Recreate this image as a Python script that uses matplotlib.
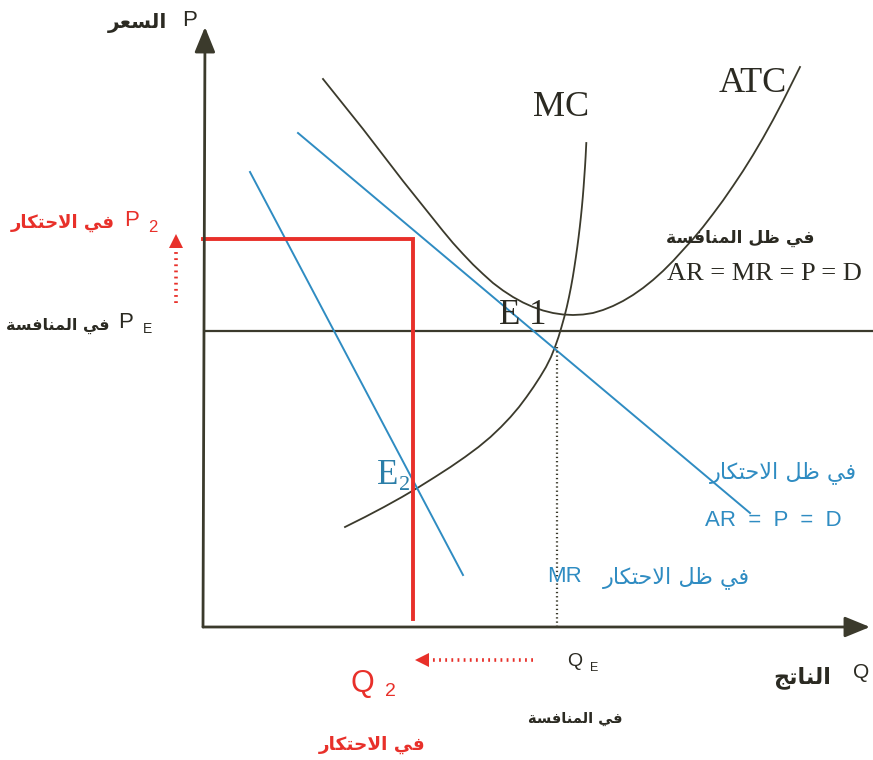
import matplotlib
matplotlib.use("Agg")
import matplotlib.pyplot as plt

# ---------------- data (chart units: quantity to the right, price upward) ----------------
P2 = 388          # monopoly price
PE = 296          # competitive price
Q2 = 210          # monopoly output
QE = 354          # competitive output
QE_TOP = 280      # where the dotted QE guide starts
RED_BOTTOM = 8

atc_q = [120, 140, 160, 180, 200, 220, 240, 250, 260, 270,
         280, 290, 300, 310, 320, 330, 340, 350, 360, 370,
         380, 390, 400, 410, 420, 430, 440, 450, 460, 470,
         480, 490, 500, 510, 520, 530, 540, 550, 560, 570,
         580, 590, 597]
atc_p = [548, 523, 498, 472, 446, 421, 396, 384, 373, 362.5,
         353, 344, 336.5, 330, 324.5, 320, 316.5, 314, 312.5, 312,
         312.5, 314, 317, 321, 326, 332, 339, 347, 356, 366,
         377, 388, 400, 413, 426.5, 441, 456, 472, 489, 507,
         526, 546, 560]

mc_q = [142, 162, 181, 199, 216, 232, 247.5, 262, 275.5, 287.5,
        298, 307.5, 316, 323.5, 330.5, 337, 343, 348, 352, 355.5,
        358.5, 361.3, 363.8, 366, 368, 369.8, 371.4, 372.9, 374.3, 375.6,
        376.8, 377.9, 378.9, 379.8, 380.6, 381.3, 382, 382.6, 383.3]
mc_p = [100, 110, 120, 130, 140, 150, 160, 170, 180, 190,
        200, 210, 220, 230, 240, 250, 260, 270, 280, 290,
        300, 310, 320, 330, 340, 350, 360, 370, 380, 390,
        400, 410, 420, 430, 440, 450, 460, 470, 484]

ar_q = [95, 547]
ar_p = [494, 114]
mr_q = [47, 260]
mr_p = [455, 52]

PE_END = 670

# ---------------- Arabic shaping helper ----------------
FORMS = {
    'ا': ('\uFE8D', '\uFE8E', None, None),
    'ة': ('\uFE93', '\uFE94', None, None),
    'ت': ('\uFE95', '\uFE96', '\uFE97', '\uFE98'),
    'ج': ('\uFE9D', '\uFE9E', '\uFE9F', '\uFEA0'),
    'ح': ('\uFEA1', '\uFEA2', '\uFEA3', '\uFEA4'),
    'ر': ('\uFEAD', '\uFEAE', None, None),
    'س': ('\uFEB1', '\uFEB2', '\uFEB3', '\uFEB4'),
    'ظ': ('\uFEC5', '\uFEC6', '\uFEC7', '\uFEC8'),
    'ع': ('\uFEC9', '\uFECA', '\uFECB', '\uFECC'),
    'ف': ('\uFED1', '\uFED2', '\uFED3', '\uFED4'),
    'ك': ('\uFED9', '\uFEDA', '\uFEDB', '\uFEDC'),
    'ل': ('\uFEDD', '\uFEDE', '\uFEDF', '\uFEE0'),
    'م': ('\uFEE1', '\uFEE2', '\uFEE3', '\uFEE4'),
    'ن': ('\uFEE5', '\uFEE6', '\uFEE7', '\uFEE8'),
    'ي': ('\uFEF1', '\uFEF2', '\uFEF3', '\uFEF4'),
}
LAMALEF = ('\uFEFB', '\uFEFC', None, None)


def shape_word(word):
    toks = []
    i = 0
    while i < len(word):
        c = word[i]
        if c == 'ل' and i + 1 < len(word) and word[i + 1] == 'ا':
            toks.append(LAMALEF)
            i += 2
        else:
            toks.append(FORMS.get(c, (c, c, None, None)))
            i += 1
    out = []
    for k, t in enumerate(toks):
        jp = k > 0 and toks[k - 1][2] is not None
        jn = t[2] is not None and k + 1 < len(toks)
        if jp and jn:
            out.append(t[3])
        elif jp:
            out.append(t[1])
        elif jn:
            out.append(t[2])
        else:
            out.append(t[0])
    return ''.join(out)


def ar(text):
    shaped = ' '.join(shape_word(w) for w in text.split(' '))
    return shaped[::-1]


# ---------------- figure ----------------
W, H = 873, 760
OX, OY = 203, 627
fig = plt.figure(figsize=(W / 100, H / 100), dpi=100)
ax = fig.add_axes([0, 0, 1, 1])
ax.set_xlim(-OX, W - OX)
ax.set_ylim(OY - H, OY)
ax.axis('off')


def T(x, y):
    return x - OX, OY - y


DARK = '#3b3a2c'
TXT = '#2b2a22'
BLUE = '#2f8cc2'
RED = '#e8302a'
E2C = '#2b7ea8'
ARF = ['DejaVu Sans']
SERIF = ['Liberation Serif']
SANS = ['Liberation Sans']

# axes with arrows
ax.annotate('', xy=T(205, 27), xytext=(0, 0),
            arrowprops=dict(arrowstyle='-|>,head_length=1.1,head_width=0.45',
                            color=DARK, lw=2.0, mutation_scale=14, shrinkA=0, shrinkB=0))
ax.annotate('', xy=T(870, 627), xytext=(0, 0),
            arrowprops=dict(arrowstyle='-|>,head_length=1.1,head_width=0.45',
                            color=DARK, lw=2.0, mutation_scale=14, shrinkA=0, shrinkB=0))

# competitive price line
ax.plot([0, PE_END], [PE, PE], color=DARK, lw=1.6, solid_capstyle='butt')

# curves
ax.plot(atc_q, atc_p, color=DARK, lw=1.3, solid_joinstyle='round')
ax.plot(mc_q, mc_p, color=DARK, lw=1.3, solid_joinstyle='round')
ax.plot(ar_q, ar_p, color=BLUE, lw=1.4)
ax.plot(mr_q, mr_p, color=BLUE, lw=1.4)

# dotted QE guide
ax.plot([QE, QE], [QE_TOP, 0], color=DARK, lw=1.6, ls=(0, (0.6, 1.3)))

# red monopoly price/quantity
ax.plot([0, Q2, Q2], [P2, P2, RED_BOTTOM], color=RED, lw=2.8, solid_joinstyle='miter')

# red dotted arrows
ax.plot([T(176, 0)[0]] * 2, [T(0, 303)[1], T(0, 250)[1]], color=RED, lw=2.6, ls=(0, (0.5, 1.2)))
ax.plot([T(176, 0)[0]], [T(0, 241)[1]], marker='^', color=RED, ms=10, mew=0)
ax.plot([T(533, 0)[0], T(430, 0)[0]], [T(0, 660)[1]] * 2, color=RED, lw=2.6, ls=(0, (0.5, 1.2)))
ax.plot([T(422, 0)[0]], [T(0, 660)[1]], marker='<', color=RED, ms=10, mew=0)

# ---------------- text ----------------
def put(x, y, s, **kw):
    ax.text(*T(x, y), s, **kw)

# P axis label
put(190, 20, 'P', ha='center', va='center', fontsize=16, family=SANS, color=TXT)
put(167, 23, ar('السعر'), ha='right', va='center', fontsize=14.5, family=ARF,
    fontweight='bold', color=TXT)

# P2 label (red)
put(115, 223, ar('في الاحتكار'), ha='right', va='center', fontsize=13, family=ARF,
    fontweight='bold', color=RED)
put(132, 221, 'P', ha='center', va='center', fontsize=16, family=SANS, color=RED)
put(153, 227, '2', ha='center', va='center', fontsize=12, family=SANS, color=RED)

# PE label
put(110, 326, ar('في المنافسة'), ha='right', va='center', fontsize=11.5, family=ARF,
    fontweight='bold', color=TXT)
put(126, 323, 'P', ha='center', va='center', fontsize=16, family=SANS, color=TXT)
put(148, 329, 'E', ha='center', va='center', fontsize=10, family=SANS, color=TXT)

# curve labels
put(561, 108, 'MC', ha='center', va='center', fontsize=26, family=SERIF, color=TXT)
put(753, 84, 'ATC', ha='center', va='center', fontsize=26, family=SERIF, color=TXT)
put(499, 316, 'E 1', ha='left', va='center', fontsize=25, family=SERIF, color=TXT)
put(377, 476, 'E', ha='left', va='center', fontsize=25, family=SERIF, color=E2C)
put(405, 486, '2', ha='center', va='center', fontsize=16, family=SERIF, color=E2C)

# competition demand label
put(815, 238, ar('في ظل المنافسة'), ha='right', va='center', fontsize=12.3, family=ARF,
    fontweight='bold', color=TXT)
put(667, 274, 'AR = MR = P = D', ha='left', va='center', fontsize=19, family=SERIF, color=TXT)

# monopoly demand label
put(857, 473, ar('في ظل الاحتكار'), ha='right', va='center', fontsize=16, family=ARF,
    color=BLUE)
put(705, 521, 'AR  =  P  =  D', ha='left', va='center', fontsize=16, family=SANS, color=BLUE)

# MR label
put(750, 578, ar('في ظل الاحتكار'), ha='right', va='center', fontsize=16, family=ARF,
    color=BLUE)
put(547, 577, 'MR', ha='left', va='center', fontsize=16, family=SANS, color=BLUE)

# Q axis label
put(861, 672, 'Q', ha='center', va='center', fontsize=15, family=SANS, color=TXT)
put(831, 678, ar('الناتج'), ha='right', va='center', fontsize=16, family=ARF,
    fontweight='bold', color=TXT)

# QE label
put(575, 662, 'Q', ha='center', va='center', fontsize=14, family=SANS, color=TXT)
put(594, 668, 'E', ha='center', va='center', fontsize=9, family=SANS, color=TXT)
put(575, 718, ar('في المنافسة'), ha='center', va='center', fontsize=10.5, family=ARF,
    fontweight='bold', color=TXT)

# Q2 label (red)
put(362, 684, 'Q', ha='center', va='center', fontsize=22, family=SANS, color=RED)
put(390, 692, '2', ha='center', va='center', fontsize=14, family=SANS, color=RED)
put(372, 745, ar('في الاحتكار'), ha='center', va='center', fontsize=13.3, family=ARF,
    fontweight='bold', color=RED)

fig.savefig('out.png', dpi=100, facecolor='white')
